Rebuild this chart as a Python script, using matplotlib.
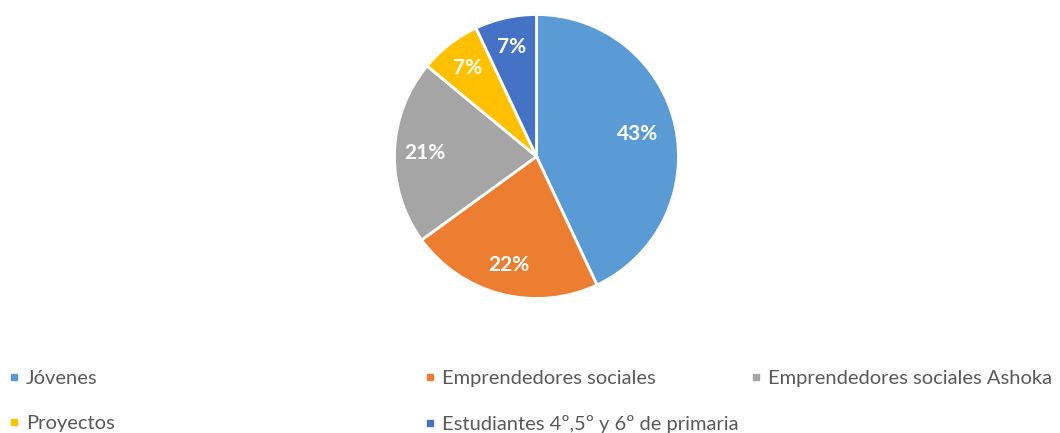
import matplotlib.pyplot as plt
from matplotlib.lines import Line2D
import numpy as np

labels = ["Jóvenes", "Emprendedores sociales", "Emprendedores sociales Ashoka",
          "Proyectos", "Estudiantes 4º,5º y 6º de primaria"]
values = [43, 22, 21, 7, 7]
colors = ["#5B9BD5", "#ED7D31", "#A5A5A5", "#FFC000", "#4472C4"]

plt.rcParams["font.family"] = ["Lato", "DejaVu Sans"]

W, H = 1060, 433
fig = plt.figure(figsize=(W / 100, H / 100), dpi=100)

cx, cy, r = 536.5, 156.5, 142
ax = fig.add_axes([(cx - r) / W, (H - cy - r) / H, 2 * r / W, 2 * r / H])
wedges, texts, autotexts = ax.pie(
    values, colors=colors, startangle=90, counterclock=False,
    autopct="%1.0f%%", pctdistance=0.79,
    wedgeprops=dict(edgecolor="white", linewidth=2),
    textprops=dict(color="white", fontsize=15, fontweight="bold"),
)
ax.set_xlim(-1, 1)
ax.set_ylim(-1, 1)
ax.set_aspect("equal")

# first label sits a bit further in
w0 = wedges[0]
mid = np.deg2rad((w0.theta1 + w0.theta2) / 2)
autotexts[0].set_position((0.73 * np.cos(mid), 0.73 * np.sin(mid)))

# legend: three columns at fixed positions like the Excel layout
columns = [[0, 3], [1, 4], [2]]
col_x = [7, 423, 749]
for cols, x in zip(columns, col_x):
    handles = [Line2D([], [], linestyle="none", marker="s", markersize=5,
                      color=colors[i]) for i in cols]
    fig.legend(handles, [labels[i] for i in cols],
               loc="upper left", bbox_to_anchor=(x / W, 1 - 370 / H),
               frameon=False, handlelength=0.7, handletextpad=0.25,
               labelspacing=1.4, borderaxespad=0, borderpad=0,
               prop=dict(size=14.5), labelcolor="#595959")

fig.savefig("out.png", dpi=100)
